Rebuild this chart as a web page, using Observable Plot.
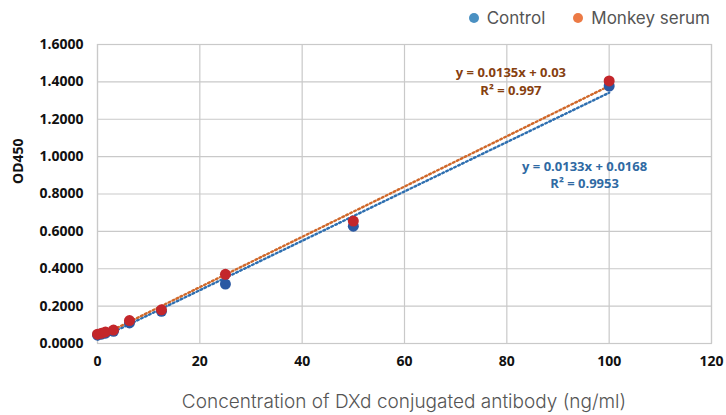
<!DOCTYPE html>
<html>
<head>
<meta charset="utf-8">
<script src="https://cdn.jsdelivr.net/npm/d3@7"></script>
<script src="https://cdn.jsdelivr.net/npm/@observablehq/plot@0.6"></script>
<style>
  html, body { margin: 0; padding: 0; background: #fff; }
  body { width: 726px; height: 415px; overflow: hidden; }
  #legend { height: 30px; display: flex; justify-content: flex-end; align-items: center;
    font-family: Inter, "Noto Sans", sans-serif; font-size: 17px; color: #555; padding-right: 16px; box-sizing: border-box; padding-top: 6px; }
  #legend .item { display: flex; align-items: center; margin-left: 28px; }
  #legend .sw { width: 10px; height: 10px; border-radius: 50%; margin-right: 8px; }
  #caption { text-align: center; font-family: Inter, "Noto Sans", sans-serif; font-size: 19px; font-weight: 300; color: #555;
    padding-left: 82px; margin-top: 10px; }
</style>
</head>
<body>
<div id="legend"></div>
<div id="chart"></div>
<div id="caption">Concentration of DXd conjugated antibody (ng/ml)</div>
<script>
// Data
const concentrations = [0, 0.78, 1.56, 3.125, 6.25, 12.5, 25, 50, 100];
const controlOD = [0.045, 0.050, 0.055, 0.065, 0.110, 0.172, 0.318, 0.628, 1.378];
const monkeyOD  = [0.050, 0.055, 0.062, 0.072, 0.123, 0.180, 0.370, 0.655, 1.405];
const seriesNames = ["Control", "Monkey serum"];
const legendColors = ["#4a90c2", "#ec7a45"];
const xTicks = [0, 20, 40, 60, 80, 100, 120];
const yTicks = [0, 0.2, 0.4, 0.6, 0.8, 1.0, 1.2, 1.4, 1.6];
const yTitle = "OD450";
const equationLabels = [
  {series: "Monkey serum", x: 80.8, y: 1.45, text: "y = 0.0135x + 0.03"},
  {series: "Monkey serum", x: 80.8, y: 1.35, text: "R² = 0.997"},
  {series: "Control", x: 95.2, y: 0.947, text: "y = 0.0133x + 0.0168"},
  {series: "Control", x: 95.2, y: 0.853, text: "R² = 0.9953"}
];

const rows = [];
concentrations.forEach((c, i) => {
  rows.push({series: "Control", x: c, y: controlOD[i]});
});
concentrations.forEach((c, i) => {
  rows.push({series: "Monkey serum", x: c, y: monkeyOD[i]});
});

const dotColor = {"Control": "#2b59a3", "Monkey serum": "#c3262b"};
const lineColor = {"Control": "#2e6fb0", "Monkey serum": "#d0682a"};
const textColor = {"Control": "#2f6aa3", "Monkey serum": "#86400f"};

// Legend
const legend = document.getElementById("legend");
seriesNames.forEach((n, i) => {
  const it = document.createElement("div");
  it.className = "item";
  it.innerHTML = `<span class="sw" style="background:${legendColors[i]}"></span><span>${n}</span>`;
  legend.appendChild(it);
});

const chart = Plot.plot({
  width: 726,
  height: 350,
  marginTop: 14,
  marginBottom: 37,
  marginLeft: 97,
  marginRight: 15,
  style: {fontFamily: "'Open Sans', sans-serif", background: "#fff"},
  x: {domain: [0, 120], ticks: xTicks},
  y: {domain: [0, 1.6], ticks: yTicks},
  marks: [
    Plot.gridX(xTicks, {stroke: "#c9c9c9", strokeOpacity: 1, strokeWidth: 1.2}),
    Plot.gridY(yTicks, {stroke: "#c9c9c9", strokeOpacity: 1, strokeWidth: 1.2}),
    Plot.frame({stroke: "#c9c9c9", strokeWidth: 1.2}),
    Plot.axisX(xTicks, {tickSize: 0, tickPadding: 13, fontSize: 14, fontWeight: "bold", fill: "#111", label: null}),
    Plot.axisY(yTicks, {tickSize: 0, tickPadding: 14, fontSize: 14, fontWeight: "bold", fill: "#111",
      tickFormat: d3.format(".4f"), label: null}),
    Plot.text([yTitle], {frameAnchor: "left", rotate: -90, dx: -79, dy: -10, fontSize: 14, fontWeight: "bold", fill: "#111"}),
    Plot.linearRegressionY(rows, {x: "x", y: "y", z: "series", stroke: d => lineColor[d.series], ci: 0,
      strokeWidth: 2.4, strokeDasharray: "1.8,2.6"}),
    Plot.dot(rows, {x: "x", y: "y", r: 5.5, fill: d => dotColor[d.series], stroke: "none"}),
    Plot.text(equationLabels, {x: "x", y: "y", text: "text", fill: d => textColor[d.series],
      fontSize: 13, fontWeight: "bold"})
  ]
});
document.getElementById("chart").appendChild(chart);
</script>
</body>
</html>
